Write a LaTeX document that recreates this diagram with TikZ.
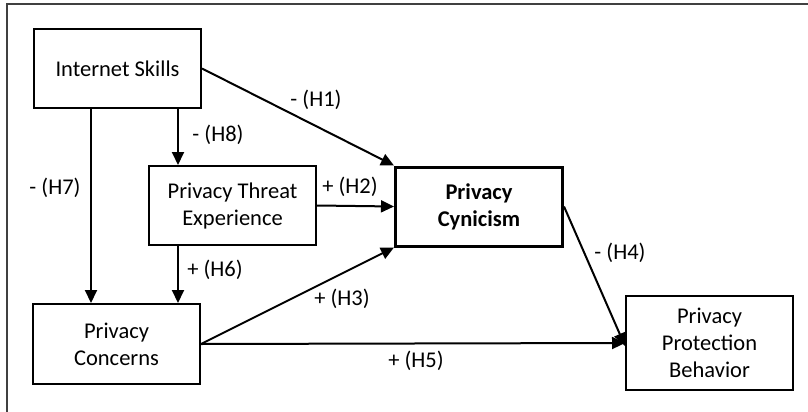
\documentclass[tikz,border=0pt]{standalone}
\usepackage{fontspec}
\setmainfont{Carlito}
\usetikzlibrary{arrows.meta}
\begin{document}
\begin{tikzpicture}[x=1pt,y=-1pt,
  every node/.style={font=\fontsize{22.5}{27}\selectfont},
  construct/.style={draw, line width=2pt, minimum width=167pt, minimum height=79pt,
    align=center, inner sep=0pt},
  central/.style={construct, line width=3pt, font=\fontsize{22.5}{27}\selectfont\bfseries},
  path/.style={line width=2pt, -{Triangle[length=13pt,width=12pt]}},
  hyp/.style={inner sep=1pt}]
\useasboundingbox (0,0) rectangle (808,412);
% frame
\draw[black!75, line width=2pt] (808,4.5) -- (7,4.5) -- (7,412);

% constructs
\node[construct] (skills) at (117.5,68.5) {Internet Skills};
\node[construct] (threat) at (232.5,205.5) {Privacy Threat\\Experience};
\node[construct, minimum height=80pt] (concern) at (116.5,344) {Privacy\\Concerns};
\node[central] (cyn) at (479,206.5) {Privacy\\Cynicism};
\node[construct, minimum height=94pt] (protect) at (709.5,343) {Privacy\\Protection\\Behavior};

% vertical guides
\coordinate (xa) at (178,0);
\coordinate (xb) at (91,0);

% hypothesised paths
\draw[path] (skills.south -| xa) -- (threat.north -| xa);
\draw[path] (skills.south -| xb) -- (concern.north -| xb);
\draw[path] (threat.south -| xa) -- (concern.north -| xa);
\draw[path] (skills.east) -- (cyn.north west);
\draw[path] (threat.east) -- (cyn.west);
\draw[path] (concern.east) -- (cyn.south west);
\draw[path] (concern.east) -- (protect.west);
\draw[path] (cyn.east) -- ([yshift=-3pt]protect.west);

% path labels
\node[hyp] (h1) at (316,100) {- (H1)};
\node[hyp] (h8) at (218,135) {- (H8)};
\node[hyp] (h7) at (55,188) {- (H7)};
\node[hyp] (h2) at (350,187) {+ (H2)};
\node[hyp] (h6) at (215,270) {+ (H6)};
\node[hyp] (h3) at (342,299) {+ (H3)};
\node[hyp] (h5) at (416,361) {+ (H5)};
\node[hyp] (h4) at (620,253) {- (H4)};
\end{tikzpicture}
\end{document}
